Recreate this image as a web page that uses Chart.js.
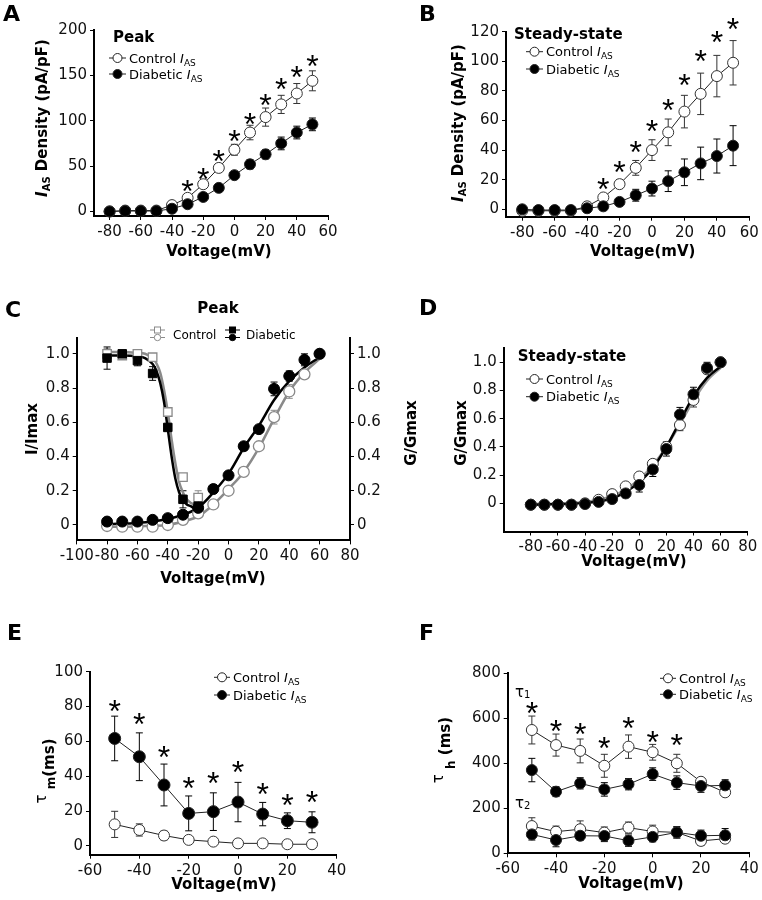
<!DOCTYPE html>
<html>
<head>
<meta charset="utf-8">
<script src="https://cdn.jsdelivr.net/npm/chart.js@4.4.1/dist/chart.umd.min.js"></script>
<style>
  html,body{margin:0;padding:0;background:#fff;}
  #wrap{position:relative;width:762px;height:900px;overflow:hidden;background:#fff;}
  #wrap canvas{position:absolute;left:0;top:0;}
</style>
</head>
<body>
<div id="wrap">
  <canvas id="cA" width="762" height="900"></canvas>
  <canvas id="cB" width="762" height="900"></canvas>
  <canvas id="cC" width="762" height="900"></canvas>
  <canvas id="cD" width="762" height="900"></canvas>
  <canvas id="cE" width="762" height="900"></canvas>
  <canvas id="cF" width="762" height="900"></canvas>
</div>
<script>
// ===== DATA =====
// A: peak I_AS density
const vAB       = [-80,-70,-60,-50,-40,-30,-20,-10,0,10,20,30,40,50];
const aCtrl     = [0,1,1,1,7,15,30,48,68,87,104,118,130,144];
const aCtrlErr  = [0,0,0,0.5,1,2,3,3,6,8,10,10,11,11];
const aDiab     = [0,0.5,0.5,0.5,3,8,16,26,40,52,63,75,87,96];
const aDiabErr  = [0,0,0,0,1,2,2,2,3,5,5,7,7,7];
const starVAB   = [-30,-20,-10,0,10,20,30,40,50];
const aStar     = [31,44,64,86,105,126,143,156,169];
// B: steady-state I_AS density
const bCtrl     = [-1,-1,-1,-1,2,8,17,28,40,52,66,78,90,99];
const bCtrlErr  = [0,0,0,0,1,1,3,5,7,9,11,14,14,15];
const bDiab     = [0,-0.5,-0.5,-0.5,0.7,2,5,9.5,14,19,25,31,36,43];
const bDiabErr  = [0,0,0,0,0.5,1,2,4,5,7,9,11,11.5,13.5];
const bStar     = [19,30,44,58,72,89,105,118,127];
// C: peak inactivation (squares) / activation (circles)
const vInact        = [-80,-70,-60,-50,-40,-30,-20];
const cInCtrl       = [1.0,0.99,1.0,0.98,0.66,0.28,0.16];
const cInCtrlErr    = [0.03,0.02,0.02,0.01,0.02,0.02,0.04];
const cInDiab       = [0.975,1.0,0.96,0.885,0.57,0.15,0.11];
const cInDiabErr    = [0.065,0.01,0.03,0.04,0.02,0.05,0.04];
const vAct          = [-80,-70,-60,-50,-40,-30,-20,-10,0,10,20,30,40,50,60];
const cActCtrl      = [-0.006,-0.01,-0.01,-0.01,0.0,0.03,0.068,0.12,0.2,0.31,0.46,0.63,0.78,0.88,1.0];
const cActCtrlErr   = [0.01,0.015,0.015,0.015,0.01,0.01,0.01,0.02,0.01,0.02,0.01,0.04,0.04,0.02,0];
const cActDiab      = [0.02,0.02,0.02,0.03,0.04,0.06,0.1,0.21,0.29,0.46,0.56,0.795,0.87,0.965,1.0];
const cActDiabErr   = [0.01,0.01,0.01,0.01,0.01,0.01,0.02,0.025,0.01,0.02,0.01,0.04,0.03,0.035,0];
const vFitIn        = [-80,-70,-60,-55,-50,-47.5,-45,-42.5,-40,-37.5,-35,-32.5,-30,-27.5,-25,-22.5,-20];
const cFitInCtrl    = [1.01,1.01,1.005,1.0,0.975,0.945,0.89,0.79,0.66,0.5,0.36,0.25,0.19,0.15,0.13,0.12,0.115];
const cFitInDiab    = [0.99,0.99,0.985,0.975,0.94,0.9,0.83,0.72,0.56,0.4,0.27,0.19,0.145,0.12,0.11,0.1,0.1];
const cFitActCtrl   = [-0.01,-0.01,-0.008,-0.005,0.0,0.02,0.05,0.12,0.21,0.31,0.45,0.62,0.78,0.89,0.97];
const cFitActDiab   = [0.005,0.008,0.012,0.02,0.035,0.06,0.1,0.19,0.3,0.45,0.58,0.73,0.84,0.92,0.98];
// D: steady-state activation
const dCtrl     = [-0.01,-0.01,-0.01,-0.01,0.0,0.025,0.065,0.12,0.19,0.28,0.4,0.555,0.733,0.95,1.0];
const dCtrlErr  = [0,0,0,0,0.005,0.01,0.01,0.02,0.02,0.03,0.03,0.04,0.05,0.03,0];
const dDiab     = [-0.01,-0.01,-0.01,-0.01,-0.005,0.01,0.03,0.07,0.13,0.24,0.385,0.63,0.773,0.96,1.0];
const dDiabErr  = [0,0,0,0,0,0.01,0.01,0.03,0.05,0.05,0.05,0.05,0.05,0.04,0];
const dFitCtrl  = [-0.005,-0.004,-0.002,0.003,0.01,0.025,0.05,0.1,0.17,0.27,0.4,0.56,0.73,0.87,0.96];
const dFitDiab  = [-0.01,-0.008,-0.006,-0.003,0.003,0.012,0.035,0.08,0.15,0.25,0.4,0.58,0.76,0.89,0.97];
// E: tau m
const vEF       = [-50,-40,-30,-20,-10,0,10,20,30];
const eCtrl     = [12.4,9.2,6,3.5,2.5,1.5,1.5,1,1];
const eCtrlErr  = [7.5,3.5,2.5,1.5,1.5,1,1.5,1.5,1];
const eDiab     = [61.7,51.2,35,18.7,19.7,25.2,18.3,14.5,13.6];
const eDiabErr  = [12.8,13.7,12,10,10.8,11.3,6.7,4.5,6];
const eStar     = [82,74.5,55.4,37.8,40.7,47,34.4,27.9,29.8];
// F: tau h (tau1 / tau2)
const fT1Ctrl    = [548,481,455,389,474,449,400,318,271];
const fT1CtrlErr = [62,49,53,51,52,35,40,10,8];
const fT1Diab    = [370,274,311,284,307,352,314,299,302];
const fT1DiabErr = [52,22,25,30,25,28,30,28,25];
const fT2Ctrl    = [121,96,107,92,114,97,93,55,65];
const fT2CtrlErr = [37,25,37,25,25,28,25,20,15];
const fT2Diab    = [84,59,78,77,56,73,93,78,80];
const fT2DiabErr = [25,30,20,25,25,22,25,25,30];
const starVF     = [-50,-40,-30,-20,-10,0,10];
const fStar      = [659,578,563,500,589,530,516];
// ticks
const xTicksAB = [-80,-60,-40,-20,0,20,40,60];
const yTicksA  = [0,50,100,150,200];
const yTicksB  = [0,20,40,60,80,100,120];
const xTicksC  = [-100,-80,-60,-40,-20,0,20,40,60,80];
const xTicksD  = [-80,-60,-40,-20,0,20,40,60,80];
const yTicksN  = [0,0.2,0.4,0.6,0.8,1.0];
const yLblN    = ['0','0.2','0.4','0.6','0.8','1.0'];
const xTicksEF = [-60,-40,-20,0,20,40];
const yTicksE  = [0,20,40,60,80,100];
const yTicksF  = [0,200,400,600,800];

// ===== SETUP =====
const W = 762, H = 900, YW = 50, XH = 30;
const FAM = '"DejaVu Sans"';
const B22 = 'bold 22px '+FAM, B15 = 'bold 15px '+FAM, BI15 = 'bold italic 15px '+FAM;
const B10 = 'bold 10px '+FAM, B12 = 'bold 12px '+FAM, R15 = '15px '+FAM;
const R13 = '13px '+FAM, I13 = 'italic 13px '+FAM, R9 = '9px '+FAM, R12 = '12px '+FAM, R10 = '10px '+FAM;
const GRAY = '#8a8a8a';

function pts(xs, ys){ return xs.map((x,i)=>({x:x, y:ys[i]})); }
function ser(xs, ys, o){
  return Object.assign({data:pts(xs,ys), borderColor:'#222', borderWidth:1, pointRadius:5.5, pointHoverRadius:5.5,
    pointBorderWidth:1, pointBorderColor:'#222', pointBackgroundColor:'#000', tension:0, fill:false, clip:false}, o);
}
function fit(xs, ys, color){
  return {data:pts(xs,ys), borderColor:color, borderWidth:2.5, pointRadius:0, cubicInterpolationMode:'monotone', fill:false, clip:false};
}
function axis(pos, min, max, ticks, labels){
  const horiz = pos==='bottom';
  return {
    type:'linear', position:pos, min:min, max:max,
    afterBuildTicks: s => { s.ticks = ticks.map(v=>({value:v})); },
    afterFit: s => { if(horiz) s.height = XH; else s.width = YW; },
    grid:{drawOnChartArea:false, drawTicks:true, tickLength:4, color:'#000', lineWidth:1},
    border:{color:'#000', width:2},
    ticks:{color:'#111', padding:3, autoSkip:false, maxRotation:0, minRotation:0,
      font:{family:'DejaVu Sans', size:15}, callback:(v,i)=> labels ? labels[i] : String(v)}
  };
}

// rich text: parts = [text, font, dy]
function txt(ctx, x, y, parts, opt){
  opt = opt || {};
  ctx.save(); ctx.translate(x,y); if(opt.rot) ctx.rotate(opt.rot);
  ctx.fillStyle='#000'; ctx.textBaseline='alphabetic'; ctx.textAlign='left';
  let w=0; parts.forEach(p=>{ctx.font=p[1]; w+=ctx.measureText(p[0]).width;});
  let cx = opt.center ? -w/2 : 0;
  parts.forEach(p=>{ctx.font=p[1]; ctx.fillText(p[0], cx, p[2]||0); cx+=ctx.measureText(p[0]).width;});
  ctx.restore();
}
function legRow(ctx, x0, yc, open, name, len){
  len = len || 17;
  ctx.save(); ctx.strokeStyle='#222'; ctx.lineWidth=1;
  ctx.beginPath(); ctx.moveTo(x0,yc); ctx.lineTo(x0+len,yc); ctx.stroke();
  ctx.beginPath(); ctx.arc(x0+len/2, yc, 4.5, 0, Math.PI*2);
  ctx.fillStyle = open ? '#fff' : '#000'; ctx.fill(); ctx.stroke();
  ctx.restore();
  txt(ctx, x0+len+3, yc+4.7, [[name+' ', R13], ['I', I13], ['AS', R9, 3]]);
}
const ROT = -Math.PI/2;

function deco(cfg){
  return {
    id:'deco',
    beforeDatasetsDraw(chart){
      const ctx = chart.ctx, x = chart.scales.x, y = chart.scales.y;
      (cfg.errs||[]).forEach(e=>{
        ctx.save(); ctx.strokeStyle = e.color || '#222'; ctx.lineWidth = 1;
        e.xs.forEach((v,i)=>{
          const d = e.err[i]; if(!d) return;
          const px = x.getPixelForValue(v);
          const y1 = y.getPixelForValue(e.ys[i]+d), y2 = y.getPixelForValue(e.ys[i]-d);
          ctx.beginPath();
          ctx.moveTo(px,y1); ctx.lineTo(px,y2);
          ctx.moveTo(px-3.5,y1); ctx.lineTo(px+3.5,y1);
          ctx.moveTo(px-3.5,y2); ctx.lineTo(px+3.5,y2);
          ctx.stroke();
        });
        ctx.restore();
      });
    },
    afterDraw(chart){
      const ctx = chart.ctx, x = chart.scales.x, y = chart.scales.y;
      if(cfg.stars){
        ctx.save(); ctx.fillStyle='#000'; ctx.font='32px "Liberation Sans"';
        ctx.textAlign='center'; ctx.textBaseline='alphabetic';
        cfg.stars.xs.forEach((v,i)=> ctx.fillText('*', x.getPixelForValue(v), y.getPixelForValue(cfg.stars.ys[i])+18.5));
        ctx.restore();
      }
      if(cfg.draw) cfg.draw(ctx, chart);
    }
  };
}

function makeChart(id, area, cfg){
  const rightW = cfg.scales.y2 ? YW : 0;
  return new Chart(document.getElementById(id), {
    type:'line',
    data:{datasets:cfg.datasets},
    options:{
      responsive:false, animation:false, events:[],
      layout:{padding:{left:area.l-YW, top:area.t, right:W-area.r-rightW, bottom:H-area.b-XH}},
      plugins:{legend:{display:false}, tooltip:{enabled:false}},
      scales:cfg.scales
    },
    plugins:[deco(cfg)]
  });
}

const openPt = {pointBackgroundColor:'#fff', pointBorderColor:'#333'};

// ===== A =====
makeChart('cA', {l:94, t:30, r:328, b:216}, {
  datasets:[
    ser(vAB, aDiab, {}),
    ser(vAB, aCtrl, openPt)
  ],
  scales:{ x:axis('bottom',-90,60,xTicksAB), y:axis('left',-5,200,yTicksA) },
  errs:[{xs:vAB, ys:aCtrl, err:aCtrlErr, color:'#333'}, {xs:vAB, ys:aDiab, err:aDiabErr, color:'#000'}],
  stars:{xs:starVAB, ys:aStar},
  draw(ctx){
    txt(ctx, 3, 21, [['A', B22]]);
    txt(ctx, 113, 41.5, [['Peak', B15]]);
    legRow(ctx, 109, 58, true, 'Control');
    legRow(ctx, 109, 74, false, 'Diabetic');
    txt(ctx, 219, 256, [['Voltage(mV)', B15]], {center:true});
    txt(ctx, 47, 118, [['I', BI15], ['AS', B10, 3], [' Density (pA/pF)', B15]], {center:true, rot:ROT});
  }
});

// ===== B =====
makeChart('cB', {l:506, t:31.7, r:749.3, b:216.7}, {
  datasets:[
    ser(vAB, bDiab, {}),
    ser(vAB, bCtrl, openPt)
  ],
  scales:{ x:axis('bottom',-90,60,xTicksAB), y:axis('left',-5,120,yTicksB) },
  errs:[{xs:vAB, ys:bCtrl, err:bCtrlErr, color:'#333'}, {xs:vAB, ys:bDiab, err:bDiabErr, color:'#000'}],
  stars:{xs:starVAB, ys:bStar},
  draw(ctx){
    txt(ctx, 419, 21, [['B', B22]]);
    txt(ctx, 514, 39.2, [['Steady-state', B15]]);
    legRow(ctx, 526, 51.7, true, 'Control');
    legRow(ctx, 526, 69, false, 'Diabetic');
    txt(ctx, 642.7, 256, [['Voltage(mV)', B15]], {center:true});
    txt(ctx, 462.7, 123, [['I', BI15], ['AS', B10, 3], [' Density (pA/pF)', B15]], {center:true, rot:ROT});
  }
});

// ===== C =====
const gOpen = {showLine:false, pointBackgroundColor:'#fff', pointBorderColor:GRAY, pointBorderWidth:1.3};
const bFill = {showLine:false, pointBackgroundColor:'#000', pointBorderColor:'#000'};
makeChart('cC', {l:76.7, t:338.4, r:350, b:540.4}, {
  datasets:[
    ser(vInact, cInDiab, Object.assign({pointStyle:'rect', pointRadius:6}, bFill)),
    ser(vAct, cActDiab, bFill),
    ser(vInact, cInCtrl, Object.assign({pointStyle:'rect', pointRadius:6}, gOpen)),
    ser(vAct, cActCtrl, gOpen),
    fit(vFitIn, cFitInDiab, '#000'),
    fit(vAct, cFitActDiab, '#000'),
    fit(vFitIn, cFitInCtrl, GRAY),
    fit(vAct, cFitActCtrl, GRAY)
  ],
  scales:{ x:axis('bottom',-100,80,xTicksC), y:axis('left',-0.09,1.09,yTicksN,yLblN), y2:axis('right',-0.09,1.09,yTicksN,yLblN) },
  errs:[
    {xs:vInact, ys:cInCtrl, err:cInCtrlErr, color:GRAY}, {xs:vAct, ys:cActCtrl, err:cActCtrlErr, color:GRAY},
    {xs:vInact, ys:cInDiab, err:cInDiabErr, color:'#000'}, {xs:vAct, ys:cActDiab, err:cActDiabErr, color:'#000'}
  ],
  draw(ctx){
    txt(ctx, 5, 317, [['C', B22]]);
    txt(ctx, 218, 313, [['Peak', B15]], {center:true});
    // legend: square over circle for each group
    [[150, GRAY, true, 'Control', 173], [225, '#000', false, 'Diabetic', 246]].forEach(g=>{
      const [x0, col, open, name, tx] = g;
      ctx.save(); ctx.strokeStyle=col; ctx.lineWidth=1;
      ctx.beginPath(); ctx.moveTo(x0,330); ctx.lineTo(x0+15,330); ctx.moveTo(x0,337.5); ctx.lineTo(x0+15,337.5); ctx.stroke();
      ctx.fillStyle = open ? '#fff' : '#000';
      ctx.fillRect(x0+4.5,327,6,6); ctx.strokeRect(x0+4.5,327,6,6);
      ctx.beginPath(); ctx.arc(x0+7.5,337.5,3.2,0,Math.PI*2); ctx.fill(); ctx.stroke();
      ctx.restore();
      txt(ctx, tx, 338.5, [[name, R12]]);
    });
    txt(ctx, 213, 583, [['Voltage(mV)', B15]], {center:true});
    txt(ctx, 36.5, 429, [['I/Imax', B15]], {center:true, rot:ROT});
    txt(ctx, 416, 433, [['G/Gmax', B15]], {center:true, rot:ROT});
  }
});

// ===== D =====
makeChart('cD', {l:503.7, t:348.2, r:747.7, b:531.5}, {
  datasets:[
    ser(vAct, dDiab, {showLine:false}),
    ser(vAct, dCtrl, Object.assign({showLine:false}, openPt)),
    fit(vAct, dFitDiab, '#000'),
    fit(vAct, dFitCtrl, '#999')
  ],
  scales:{ x:axis('bottom',-100,80,xTicksD), y:axis('left',-0.2,1.1,yTicksN,yLblN) },
  errs:[{xs:vAct, ys:dCtrl, err:dCtrlErr, color:'#333'}, {xs:vAct, ys:dDiab, err:dDiabErr, color:'#000'}],
  draw(ctx){
    txt(ctx, 419, 315, [['D', B22]]);
    txt(ctx, 517.7, 361, [['Steady-state', B15]]);
    legRow(ctx, 526, 379, true, 'Control');
    legRow(ctx, 526, 396.7, false, 'Diabetic');
    txt(ctx, 634, 566, [['Voltage(mV)', B15]], {center:true});
    txt(ctx, 466, 433, [['G/Gmax', B15]], {center:true, rot:ROT});
  }
});

// ===== E =====
makeChart('cE', {l:90, t:671.7, r:336.7, b:854.7}, {
  datasets:[
    ser(vEF, eDiab, {pointRadius:6}),
    ser(vEF, eCtrl, Object.assign({pointRadius:5.5}, openPt))
  ],
  scales:{ x:axis('bottom',-60,40,xTicksEF), y:axis('left',-5,100,yTicksE) },
  errs:[{xs:vEF, ys:eCtrl, err:eCtrlErr, color:'#333'}, {xs:vEF, ys:eDiab, err:eDiabErr, color:'#000'}],
  stars:{xs:vEF, ys:eStar},
  draw(ctx){
    txt(ctx, 7, 640, [['E', B22]]);
    legRow(ctx, 214, 677.3, true, 'Control', 16);
    legRow(ctx, 214, 695, false, 'Diabetic', 16);
    txt(ctx, 224, 889, [['Voltage(mV)', B15]], {center:true});
    txt(ctx, 54, 771, [['\u03c4', R15, -8], [' ', B15], ['m', B12, 1], ['(ms)', B15]], {center:true, rot:ROT});
  }
});

// ===== F =====
makeChart('cF', {l:507.7, t:673.3, r:749.3, b:853.3}, {
  datasets:[
    ser(vEF, fT1Diab, {}),
    ser(vEF, fT1Ctrl, openPt),
    ser(vEF, fT2Diab, {}),
    ser(vEF, fT2Ctrl, openPt)
  ],
  scales:{ x:axis('bottom',-60,40,xTicksEF), y:axis('left',0,800,yTicksF) },
  errs:[
    {xs:vEF, ys:fT1Ctrl, err:fT1CtrlErr, color:'#333'}, {xs:vEF, ys:fT1Diab, err:fT1DiabErr, color:'#000'},
    {xs:vEF, ys:fT2Ctrl, err:fT2CtrlErr, color:'#333'}, {xs:vEF, ys:fT2Diab, err:fT2DiabErr, color:'#000'}
  ],
  stars:{xs:starVF, ys:fStar},
  draw(ctx){
    txt(ctx, 419, 640, [['F', B22]]);
    legRow(ctx, 660, 678.3, true, 'Control', 16);
    legRow(ctx, 660, 694.3, false, 'Diabetic', 16);
    txt(ctx, 631, 887.5, [['Voltage(mV)', B15]], {center:true});
    txt(ctx, 449.5, 750, [['\u03c4', R15, -6.5], [' ', B15], ['h', B12, 5], [' (ms)', B15]], {center:true, rot:ROT});
    txt(ctx, 515, 697, [['\u03c4', R15], ['1', R10, 1]]);
    txt(ctx, 515, 808, [['\u03c4', R15], ['2', R10, 1]]);
  }
});
</script>
</body>
</html>
